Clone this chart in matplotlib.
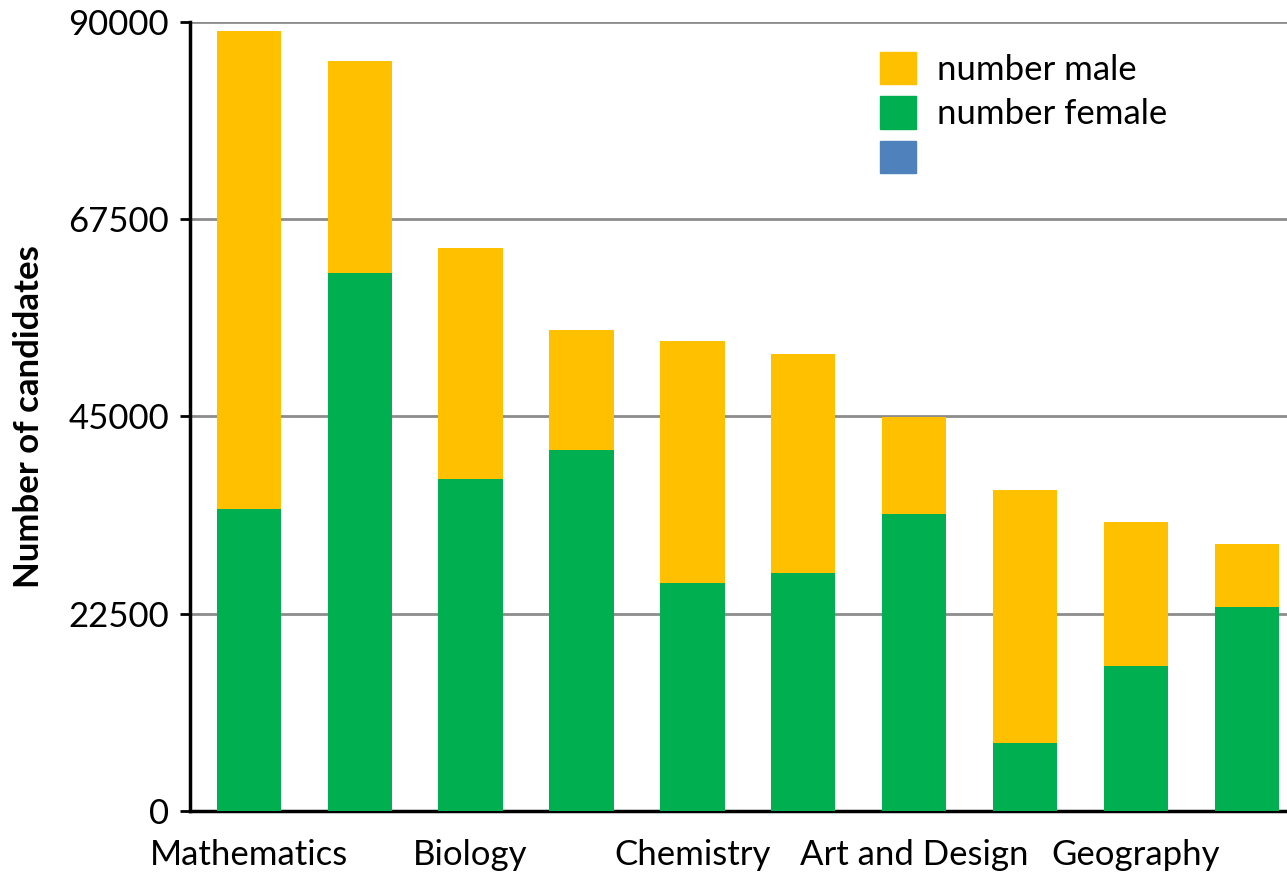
import matplotlib
matplotlib.use("Agg")
import matplotlib.pyplot as plt
from matplotlib.patches import Patch
import numpy as np

categories = ["Mathematics", "", "Biology", "", "Chemistry", "", "Art and Design", "", "Geography", ""]
female = [34400, 61400, 37900, 41200, 26000, 27100, 33900, 7800, 16500, 23300]
total = [89000, 85500, 64200, 54900, 53600, 52100, 44900, 36600, 33000, 30500]
male = [t - f for t, f in zip(total, female)]
yticks = [0, 22500, 45000, 67500, 90000]

plt.rcParams['font.family'] = ['Lato', 'DejaVu Sans']
FS = 25

fig = plt.figure(figsize=(12.87, 8.75), dpi=100)
ax = fig.add_axes([190/1287, 64/875, 1109/1287, 789/875])

x = np.arange(len(categories))
ax.bar(x, female, width=0.58, color='#00B050', zorder=3)
ax.bar(x, male, width=0.58, bottom=female, color='#FFC000', zorder=3)

ax.set_ylim(0, 90000)
ax.set_xlim(-0.53, 9.47)
ax.set_yticks(yticks)
ax.set_yticklabels([str(v) for v in yticks], fontsize=FS)
ax.set_xticks(x)
ax.set_xticklabels(categories, fontsize=FS)
ax.tick_params(axis='x', length=0, pad=20)
ax.tick_params(axis='y', length=7, width=2, pad=8, direction='out')
ax.yaxis.grid(True, color='#8c8c8c', linewidth=2, zorder=0)
ax.set_axisbelow(True)
for s in ['top', 'right']:
    ax.spines[s].set_visible(False)
ax.spines['left'].set_linewidth(2.5)
ax.spines['bottom'].set_linewidth(2.5)
ax.set_ylabel("Number of candidates", fontsize=FS, fontweight='bold', labelpad=17)

handles = [Patch(color='#FFC000'), Patch(color='#00B050'), Patch(color='#4F81BD')]
labels = ["number male", "number female", ""]
ax.legend(handles, labels, loc='upper left', bbox_to_anchor=(0.622, 0.962),
          frameon=False, fontsize=FS, handlelength=1.05, handleheight=1.05,
          labelspacing=0.3, handletextpad=0.6, borderpad=0, borderaxespad=0)

fig.savefig("out.png", dpi=100)
